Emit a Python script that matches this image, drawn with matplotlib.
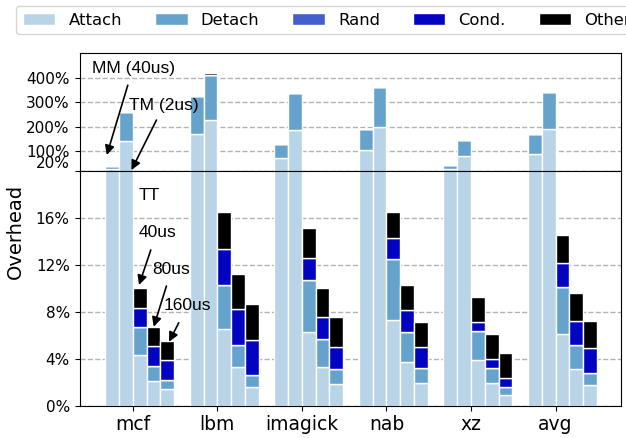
import matplotlib
matplotlib.use('Agg')
import matplotlib.pyplot as plt
import numpy as np
from matplotlib.ticker import FuncFormatter

benchmarks = ['mcf', 'lbm', 'imagick', 'nab', 'xz', 'avg']
configs = ['MM (40us)', 'TM (2us)', 'TT 40us', 'TT 80us', 'TT 160us']
parts = ['Attach', 'Detach', 'Rand', 'Cond.', 'Other']
colors = ['#b9d4e7', '#66a3cc', '#445fc9', '#0303c2', '#000000']

# rows = benchmark, cols = MM, TM, TT40, TT80, TT160 (percent)
attach = [[27.5, 144.0, 4.34, 2.13, 1.42],
          [169.0, 228.0, 6.58, 3.31, 1.63],
          [72.0, 186.0, 6.28, 3.33, 1.84],
          [104.0, 197.5, 7.32, 3.72, 1.90],
          [29.5, 81.6, 3.87, 1.91, 0.94],
          [91.0, 189.0, 6.13, 3.13, 1.79]]
detach = [[11.0, 117.0, 2.38, 1.28, 0.77],
          [157.0, 184.0, 3.73, 1.87, 0.99],
          [56.6, 151.0, 4.46, 2.36, 1.31],
          [86.0, 164.0, 5.19, 2.59, 1.29],
          [13.0, 63.4, 2.51, 1.28, 0.66],
          [78.6, 154.0, 3.97, 2.03, 1.02]]
rand = [[0.0, 0.0, 0.0, 0.0, 0.0],
        [0.0, 0.0, 0.0, 0.0, 0.0],
        [0.0, 0.0, 0.0, 0.0, 0.0],
        [0.0, 0.0, 0.0, 0.0, 0.0],
        [0.0, 0.0, 0.0, 0.0, 0.0],
        [0.0, 0.0, 0.0, 0.0, 0.0]]
cond = [[0.0, 0.0, 1.65, 1.65, 1.70],
        [0.0, 0.0, 3.02, 3.05, 2.98],
        [0.0, 0.0, 1.86, 1.88, 1.87],
        [0.0, 0.0, 1.80, 1.83, 1.82],
        [0.0, 0.0, 0.77, 0.78, 0.75],
        [0.0, 0.0, 2.07, 2.10, 2.07]]
other = [[0.0, 0.0, 1.70, 1.66, 1.64],
         [5.0, 7.0, 3.15, 3.03, 3.05],
         [0.0, 0.0, 2.52, 2.50, 2.50],
         [0.0, 0.0, 2.23, 2.19, 2.14],
         [0.0, 0.0, 2.13, 2.13, 2.13],
         [0.0, 0.0, 2.38, 2.33, 2.35]]

data = [np.array(attach), np.array(detach), np.array(rand), np.array(cond), np.array(other)]

fig = plt.figure(figsize=(6.26, 4.38), dpi=100)
ax_top = fig.add_axes([0.127, 0.6096, 0.8658, 0.2694])
ax_bot = fig.add_axes([0.127, 0.0737, 0.8658, 0.5358])

x = np.arange(len(benchmarks))
w = 0.163

def draw(ax):
    handles = []
    for j in range(len(configs)):
        xpos = x + (j - 1.5) * w
        bottom = np.zeros(len(benchmarks))
        for k in range(len(parts)):
            vals = data[k][:, j]
            b = ax.bar(xpos, vals, w, bottom=bottom, color=colors[k],
                       edgecolor='white', linewidth=1.0, label=parts[k])
            bottom = bottom + vals
            if j == 0:
                handles.append(b)
    ax.set_axisbelow(True)
    ax.yaxis.grid(True, linestyle='--', color='#b3b3b3', linewidth=1.0)
    ax.set_xlim(-0.63, 5.78)
    return handles

handles = draw(ax_top)
draw(ax_bot)

pct = FuncFormatter(lambda v, p: '{:.0f}%'.format(v))
ax_top.set_ylim(20, 500)
ax_top.set_yticks([20, 100, 200, 300, 400])
ax_top.yaxis.set_major_formatter(pct)
ax_top.set_xticks(x)
ax_top.tick_params(axis='x', labelbottom=False, length=0)
ax_top.tick_params(axis='y', labelsize=11)
ax_top.yaxis.get_major_ticks()[0].label1.set_verticalalignment('bottom')

ax_bot.set_ylim(0, 20)
ax_bot.set_yticks([0, 4, 8, 12, 16])
ax_bot.yaxis.set_major_formatter(pct)
ax_bot.set_xticks(x)
ax_bot.set_xticklabels(benchmarks)
ax_bot.tick_params(axis='x', labelsize=13.5)
ax_bot.tick_params(axis='y', labelsize=11)

fig.text(0.024, 1 - 231 / 438, 'Overhead', rotation=90, ha='center', va='center', fontsize=14)

fig.legend([h[0] for h in handles], parts, loc='upper left', ncol=5,
           bbox_to_anchor=(16 / 626, 1 - 6 / 438), borderaxespad=0, fontsize=11.8)

# annotations
afont = dict(family=['Liberation Sans', 'DejaVu Sans'], fontsize=12.5, ha='center', va='center')
aprops = dict(arrowstyle='-|>', color='k', lw=1.2, mutation_scale=14, shrinkA=0, shrinkB=0)

ax_top.text(0.006, 437, 'MM (40us)', **afont)
ax_top.annotate('', xy=(-0.307, 85), xytext=(-0.059, 369), arrowprops=aprops, annotation_clip=False)
ax_top.text(0.369, 288, 'TM (2us)', **afont)
ax_top.annotate('', xy=(-0.015, 24), xytext=(0.28, 227), arrowprops=aprops, annotation_clip=False)

ax_bot.text(0.189, 17.95, 'TT', **afont)
ax_bot.text(0.296, 14.72, '40us', **afont)
ax_bot.annotate('', xy=(0.074, 10.29), xytext=(0.213, 13.27), arrowprops=aprops)
ax_bot.text(0.453, 11.65, '80us', **afont)
ax_bot.annotate('', xy=(0.248, 6.73), xytext=(0.398, 10.2), arrowprops=aprops)
ax_bot.text(0.644, 8.5, '160us', **afont)
ax_bot.annotate('', xy=(0.429, 5.45), xytext=(0.544, 7.07), arrowprops=aprops)

fig.savefig('out.png', dpi=100)
